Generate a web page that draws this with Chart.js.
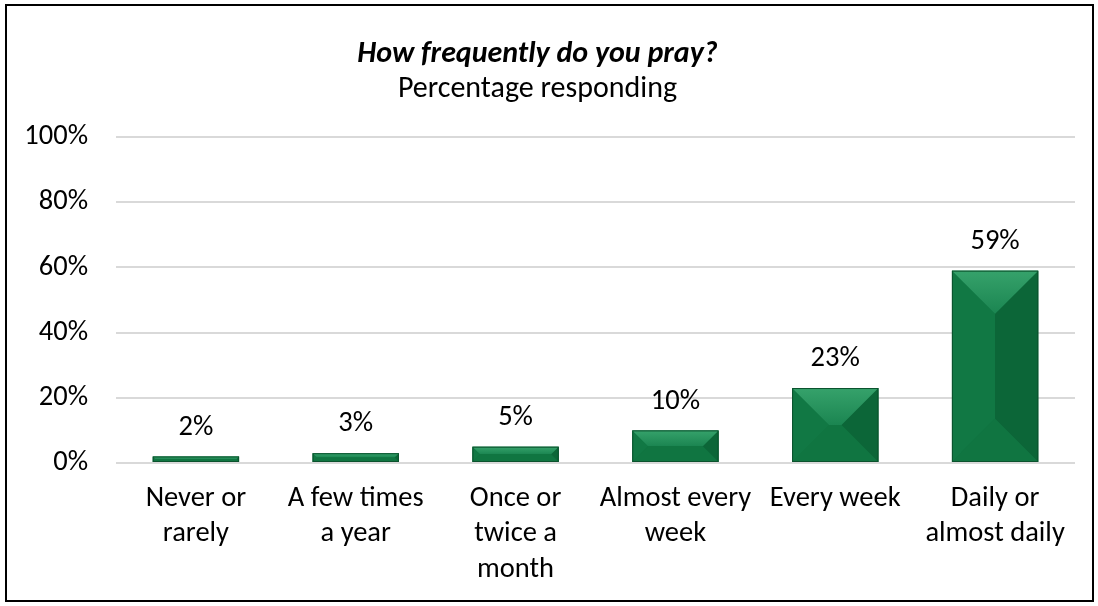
<!DOCTYPE html>
<html>
<head>
<meta charset="utf-8">
<script src="https://cdn.jsdelivr.net/npm/chart.js@4"></script>
<style>
  html, body { margin: 0; padding: 0; background: #ffffff; }
  #wrap { position: relative; width: 1098px; height: 606px; }
  #frame { position: absolute; left: 5px; top: 4px; width: 1089px; height: 598px; box-sizing: border-box; border: 2px solid #000; pointer-events: none; }
  canvas { display: block; }
</style>
</head>
<body>
<div id="wrap">
  <canvas id="c" width="1098" height="606"></canvas>
  <div id="frame"></div>
</div>
<script>
const categories = [
  ["Never or", "rarely"],
  ["A few times", "a year"],
  ["Once or", "twice a", "month"],
  ["Almost every", "week"],
  ["Every week"],
  ["Daily or", "almost daily"]
];
const values = [2, 3, 5, 10, 23, 59];
const yTicks = [0, 20, 40, 60, 80, 100];
const titleText = "How frequently do you pray?";
const subtitleText = "Percentage responding";

const FONT = "Carlito, Calibri, Lato, sans-serif";
const TICK_SIZE = 28.5;

const bevelPlugin = {
  id: 'bevel',
  afterDatasetsDraw(chart) {
    const ctx = chart.ctx;
    const meta = chart.getDatasetMeta(0);
    meta.data.forEach((bar) => {
      const w = bar.width;
      const l = bar.x - w / 2, r = bar.x + w / 2;
      const t = Math.min(bar.y, bar.base), b = Math.max(bar.y, bar.base);
      const h = b - t;
      const d = Math.min(w / 2, h / 2);
      ctx.save();
      ctx.fillStyle = '#0f7241';
      ctx.fillRect(l, t, w, h);
      ctx.fillStyle = '#117844';
      ctx.beginPath();
      ctx.moveTo(l, t); ctx.lineTo(l + d, t + d); ctx.lineTo(l + d, b - d); ctx.lineTo(l, b); ctx.closePath(); ctx.fill();
      ctx.fillStyle = '#0c6638';
      ctx.beginPath();
      ctx.moveTo(r, t); ctx.lineTo(r - d, t + d); ctx.lineTo(r - d, b - d); ctx.lineTo(r, b); ctx.closePath(); ctx.fill();
      const gTop = ctx.createLinearGradient(0, t, 0, t + d);
      gTop.addColorStop(0, '#36a26b');
      gTop.addColorStop(1, '#1b8551');
      ctx.fillStyle = gTop;
      ctx.beginPath();
      ctx.moveTo(l, t); ctx.lineTo(r, t); ctx.lineTo(r - d, t + d); ctx.lineTo(l + d, t + d); ctx.closePath(); ctx.fill();
      ctx.fillStyle = '#107541';
      ctx.beginPath();
      ctx.moveTo(l, b); ctx.lineTo(r, b); ctx.lineTo(r - d, b - d); ctx.lineTo(l + d, b - d); ctx.closePath(); ctx.fill();
      ctx.strokeStyle = '#0b522d';
      ctx.lineWidth = 1;
      ctx.strokeRect(l + 0.5, t + 0.5, w - 1, h - 1);
      ctx.restore();
    });
  }
};

const labelPlugin = {
  id: 'valueLabels',
  afterDatasetsDraw(chart) {
    const ctx = chart.ctx;
    const meta = chart.getDatasetMeta(0);
    const ds = chart.data.datasets[0];
    ctx.save();
    ctx.font = TICK_SIZE + 'px ' + FONT;
    ctx.fillStyle = '#000';
    ctx.textAlign = 'center';
    ctx.textBaseline = 'middle';
    meta.data.forEach((bar, i) => {
      ctx.fillText(ds.data[i] + '%', bar.x, bar.y - 29);
    });
    ctx.restore();
  }
};

new Chart(document.getElementById('c'), {
  type: 'bar',
  data: {
    labels: categories,
    datasets: [{
      data: values,
      backgroundColor: 'rgba(0,0,0,0)',
      borderWidth: 0,
      categoryPercentage: 1,
      barPercentage: 0.54
    }]
  },
  options: {
    responsive: false,
    animation: false,
    events: [],
    layout: { padding: { left: 0, right: 23, top: 0, bottom: 0 } },
    plugins: {
      legend: { display: false },
      tooltip: { enabled: false },
      title: {
        display: true,
        text: titleText,
        color: '#000',
        font: { family: FONT, size: 30, style: 'italic', weight: 'bold', lineHeight: 1.1 },
        padding: { top: 38, bottom: 2 }
      },
      subtitle: {
        display: true,
        text: subtitleText,
        color: '#000',
        font: { family: FONT, size: 30, lineHeight: 1.1 },
        padding: { top: 0, bottom: 31 }
      }
    },
    scales: {
      x: {
        afterFit(axis) { axis.height = 143; },
        grid: { display: false, drawTicks: false },
        border: { display: false },
        ticks: {
          color: '#000',
          font: { family: FONT, size: TICK_SIZE, lineHeight: 1.245 },
          padding: 18,
          maxRotation: 0,
          autoSkip: false
        }
      },
      y: {
        min: 0,
        max: 100,
        afterBuildTicks(axis) { axis.ticks = yTicks.map(v => ({ value: v })); },
        afterFit(axis) { axis.width = 116; },
        grid: { color: '#d9d9d9', lineWidth: 2, drawTicks: false },
        border: { display: false },
        ticks: {
          color: '#000',
          font: { family: FONT, size: TICK_SIZE },
          padding: 28,
          callback: v => v + '%'
        }
      }
    }
  },
  plugins: [bevelPlugin, labelPlugin]
});
</script>
</body>
</html>
